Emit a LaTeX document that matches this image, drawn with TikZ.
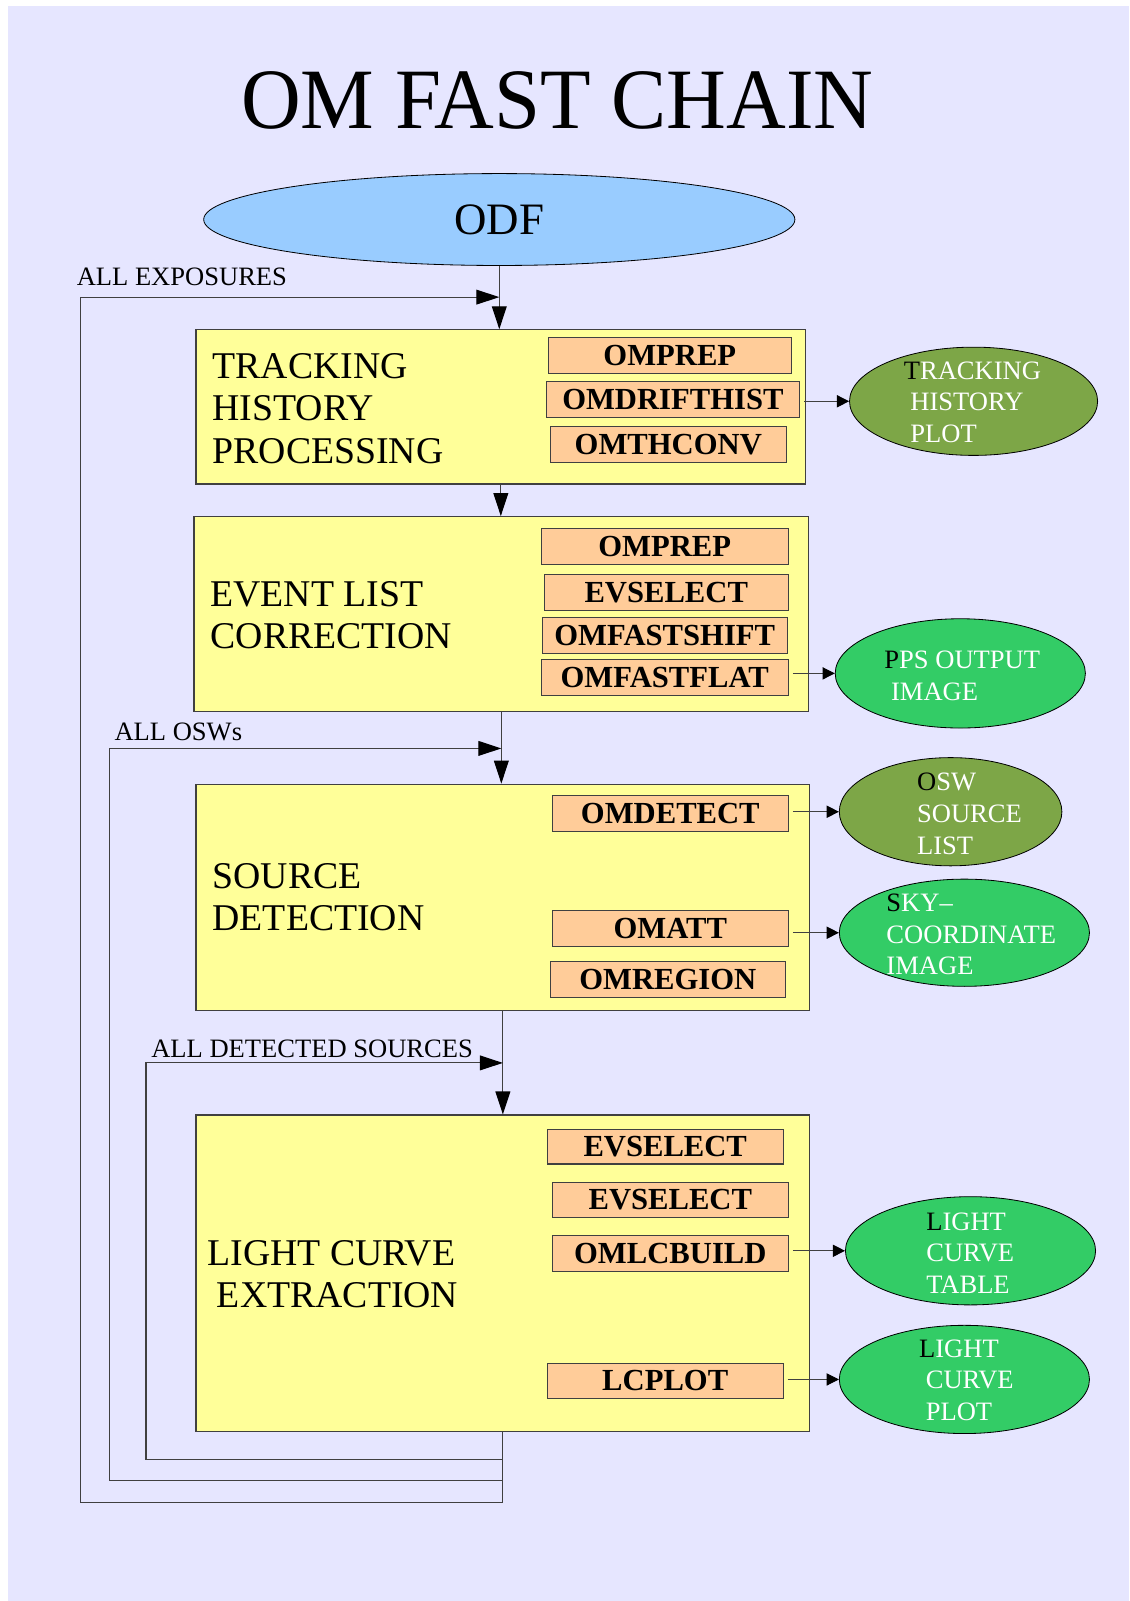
\documentclass[tikz,border=0pt]{standalone}
\usepackage{fontspec}
\usepackage{graphicx}
\setmainfont{Liberation Serif}
\usetikzlibrary{arrows.meta,shapes.geometric}
\definecolor{bglav}{HTML}{E6E6FF}
\definecolor{odfblue}{HTML}{99CCFF}
\definecolor{boxyel}{HTML}{FFFF99}
\definecolor{toolor}{HTML}{FFCC99}
\definecolor{olivegr}{HTML}{7DA647}
\definecolor{brightgr}{HTML}{33CC66}
\definecolor{linegray}{HTML}{404040}
\begin{document}
\begin{tikzpicture}[x=1pt,y=-1pt,
  stage/.style={draw=linegray, line width=1.1pt, fill=boxyel, rectangle, inner sep=0pt},
  tool/.style={draw=linegray, line width=1pt, fill=toolor, rectangle, minimum height=35pt, inner sep=0pt,
    font=\fontsize{30}{30}\selectfont\bfseries},
  stagetext/.style={anchor=west, inner sep=0pt, align=left, font=\fontsize{37}{41.6}\selectfont},
  outell/.style={draw=black, line width=0.8pt, ellipse, inner sep=0pt, minimum width=245pt, minimum height=106pt},
  elltext/.style={anchor=west, inner sep=0pt, align=left, text=white, font=\fontsize{26}{31}\selectfont},
  looplabel/.style={anchor=base west, inner sep=0pt, font=\fontsize{26}{26}\selectfont},
  conn/.style={draw=linegray, line width=1.1pt},
  bigarrow/.style={-{Triangle[length=22.5pt,width=14.5pt,color=black]}},
  smallarrow/.style={-{Triangle[length=12pt,width=12pt,color=black]}, shorten <=4pt}
]
\useasboundingbox (0,0) rectangle (1105.8,1568);
\fill[white] (0,0) rectangle (1105.8,1568);
\fill[bglav] (7.8,5.9) rectangle (1105.8,1568);

% title
\node[anchor=base, inner sep=0pt] (title) at (546,126)
  {\scalebox{1.0}[1.04]{\fontsize{81}{81}\selectfont OM FAST CHAIN}};

% ODF
\node[draw=black, line width=0.8pt, ellipse, fill=odfblue, minimum width=579pt, minimum height=90pt,
  inner sep=0pt, font=\fontsize{44}{44}\selectfont] (odf) at (489,215) {ODF};

% stage boxes
\node[stage, minimum width=597pt, minimum height=151pt] (box1) at (490.5,398.5) {};
\node[stage, minimum width=602pt, minimum height=191pt] (box2) at (491,601.5) {};
\node[stage, minimum width=601pt, minimum height=222pt] (box3) at (492.5,879) {};
\node[stage, minimum width=601pt, minimum height=310pt] (box4) at (492.5,1247) {};

\node[stagetext] (b1t) at (208,399.9) {TRACKING\\HISTORY\\PROCESSING};
\node[stagetext] (b2t) at (206,602.7) {EVENT LIST\\CORRECTION};
\node[stagetext] (b3t) at (208,878.7) {SOURCE\\DETECTION};
\node[stagetext] (b4t) at (203,1247.7) {LIGHT CURVE\\\hspace*{0.25em}EXTRACTION};

% tools
\node[tool, minimum width=238pt] (t11) at (656,348.5) {OMPREP};
\node[tool, minimum width=248pt] (t12) at (659,391.5) {OMDRIFTHIST};
\node[tool, minimum width=231pt] (t13) at (654.5,435.5) {OMTHCONV};

\node[tool, minimum width=242pt] (t21) at (651,535.5) {OMPREP};
\node[tool, minimum width=239pt] (t22) at (652.5,580.5) {EVSELECT};
\node[tool, minimum width=240pt] (t23) at (651,622.5) {OMFASTSHIFT};
\node[tool, minimum width=242pt] (t24) at (651,663.5) {OMFASTFLAT};

\node[tool, minimum width=231pt] (t31) at (656.5,796.5) {OMDETECT};
\node[tool, minimum width=231pt] (t32) at (656.5,909.5) {OMATT};
\node[tool, minimum width=230pt] (t33) at (654,959.5) {OMREGION};

\node[tool, minimum width=231pt, minimum height=34pt] (t41) at (651.5,1123) {EVSELECT};
\node[tool, minimum width=231pt, minimum height=34pt] (t42) at (656.5,1175) {EVSELECT};
\node[tool, minimum width=231pt] (t43) at (656.5,1227.5) {OMLCBUILD};
\node[tool, minimum width=231pt] (t44) at (651.5,1352.5) {LCPLOT};

% output ellipses
\node[outell, fill=olivegr, minimum width=243pt] (e1) at (953.5,393) {};
\node[outell, fill=brightgr, minimum height=107pt] (e2) at (940.5,659.5) {};
\node[outell, fill=olivegr, minimum width=218pt] (e3) at (931,795) {};
\node[outell, fill=brightgr, minimum height=105pt] (e4) at (944.5,913.5) {};
\node[outell, fill=brightgr] (e5) at (950.5,1225) {};
\node[outell, fill=brightgr] (e6) at (944.5,1351) {};

\node[elltext] (e1t) at (885,394) {{\color{black}T}RACKING\\\hspace*{0.25em}HISTORY\\\hspace*{0.25em}PLOT};
\node[elltext] (e2t) at (866,661.7) {{\color{black}P}PS OUTPUT\\\hspace*{0.25em}IMAGE};
\node[elltext] (e3t) at (898,797) {{\color{black}O}SW\\SOURCE\\LIST};
\node[elltext] (e4t) at (868,915.3) {{\color{black}S}KY--\\COORDINATE\\IMAGE};
\node[elltext] (e5t) at (907,1227.3) {{\color{black}L}IGHT\\CURVE\\TABLE};
\node[elltext] (e6t) at (900,1351.8) {{\color{black}L}IGHT\\\hspace*{0.25em}CURVE\\\hspace*{0.25em}PLOT};

% tool -> output arrows
\draw[conn, line width=0.9pt, smallarrow] (e1.west -| t12.east) -- (e1.west);
\draw[conn, line width=0.9pt, smallarrow] (e2.west -| t24.east) -- (e2.west);
\draw[conn, line width=0.9pt, smallarrow] (e3.west -| t31.east) -- (e3.west);
\draw[conn, line width=0.9pt, smallarrow] (e4.west -| t32.east) -- (e4.west);
\draw[conn, line width=0.9pt, smallarrow] (e5.west -| t43.east) -- (e5.west);
\draw[conn, line width=0.9pt, smallarrow] (e6.west -| t44.east) -- (e6.west);

% main flow
\draw[conn, bigarrow] (odf.south) -- (odf.south |- box1.north);
\draw[conn, bigarrow] (box1.south) -- (box1.south |- box2.north);
\draw[conn, bigarrow] (box2.south) -- (box2.south |- box3.north);
\draw[conn, bigarrow] (box3.south) -- (box3.south |- box4.north);

% feedback loops
\coordinate (j1) at (489,291);
\coordinate (j2) at (491,733);
\coordinate (j3) at (492.5,1041);
\coordinate (l1) at (79,1471.8);
\coordinate (l2) at (107.5,1450.2);
\coordinate (l3) at (143,1429.3);

\draw[conn, bigarrow] (box4.south) |- (l1) |- (j1);
\draw[conn, bigarrow] (box4.south) |- (l2) |- (j2);
\draw[conn, bigarrow] (box4.south) |- (l3) |- (j3);

\node[looplabel] (lab1) at (75,280) {ALL EXPOSURES};
\node[looplabel] (lab2) at (112,725) {ALL OSWs};
\node[looplabel] (lab3) at (148,1036) {ALL DETECTED SOURCES};
\end{tikzpicture}
\end{document}
